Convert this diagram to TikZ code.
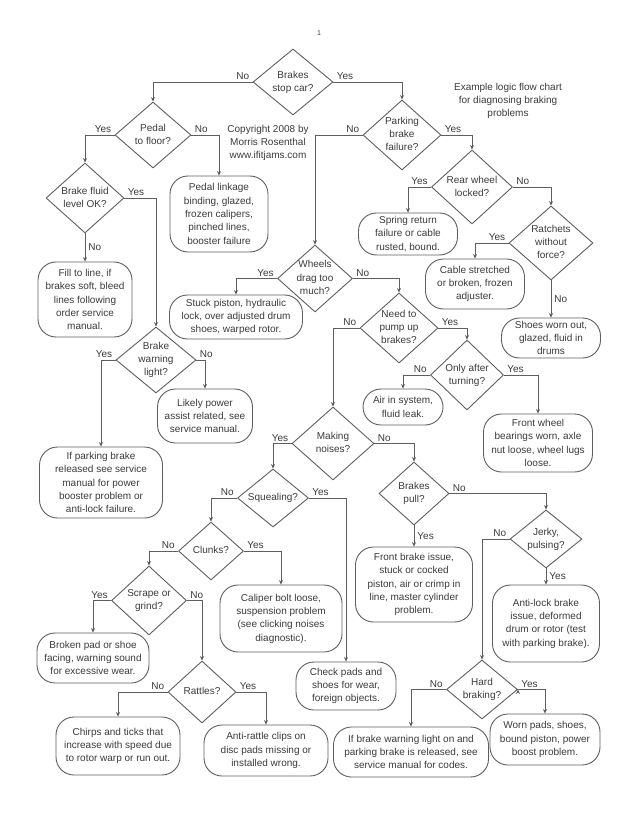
\documentclass[tikz,border=0pt]{standalone}
\usepackage{fontspec}
\setmainfont{Liberation Sans}
\usetikzlibrary{shapes.geometric,arrows.meta}
\definecolor{linegray}{HTML}{5E5E5E}
\definecolor{inkgray}{HTML}{3A3A3A}
\newcommand{\chartfont}{\fontsize{10}{13.3}\selectfont}
% question text is kept out of the diamond size
\newcommand{\ask}[1]{\makebox[0pt]{\begin{tabular}{@{}c@{}}#1\end{tabular}}}

\tikzset{
  query/.style 2 args={diamond, draw=linegray, line width=0.9pt, inner sep=0pt,
    text=inkgray, minimum width=#1pt, minimum height=#2pt},
  answer/.style 2 args={rectangle, rounded corners=18pt, draw=linegray, line width=0.9pt,
    align=center, inner sep=1pt, text=inkgray, minimum width=#1pt, minimum height=#2pt},
  hv/.style={to path={-| (\tikztotarget) \tikztonodes}},
  yesno/.style={text=inkgray, inner xsep=3pt, inner ysep=1.5pt},
  tagleft/.style={yesno, pos=0, anchor=south east},
  tagright/.style={yesno, pos=0, anchor=south west},
  tagdown/.style={yesno, pos=0.5, anchor=west},
  flow/.style={draw=linegray, line width=0.9pt, -{Stealth[length=4.5pt,width=4pt]}},
}

\begin{document}
\begin{tikzpicture}[x=1pt,y=-1pt,font=\chartfont]
\useasboundingbox (0,0) rectangle (638,826);

\node[text=inkgray, font=\fontsize{7}{8}\selectfont] (page) at (319,33) {1};
\node[text=inkgray, align=center] (credit) at (268,143) {Copyright 2008 by\\Morris Rosenthal\\www.ifitjams.com};
\node[text=inkgray, align=center] (title) at (508,101) {Example logic flow chart\\for diagnosing braking\\problems};

% questions
\node[query={80}{66}] (brakes) at (293,82) {\ask{Brakes\\stop car?}};
\node[query={76}{66}] (pedal) at (153,135) {\ask{Pedal\\to floor?}};
\node[query={78}{70}] (fluid) at (85,198) {\ask{Brake fluid\\level OK?}};
\node[query={80}{66}] (warn) at (156,360) {\ask{Brake\\warning\\light?}};
\node[query={78}{70}] (park) at (402,135) {\ask{Parking\\brake\\failure?}};
\node[query={81}{74}] (rear) at (472,187) {\ask{Rear wheel\\locked?}};
\node[query={84}{74}] (ratchet) at (551,243) {\ask{Ratchets\\without\\force?}};
\node[query={75}{67}] (drag) at (315,278.5) {\ask{Wheels\\drag too\\much?}};
\node[query={78}{70}] (pump) at (399,328) {\ask{Need to\\pump up\\brakes?}};
\node[query={73}{70}] (turn) at (467,375) {\ask{Only after\\turning?}};
\node[query={82}{73}] (noise) at (333,443.5) {\ask{Making\\noises?}};
\node[query={71}{58}] (squeal) at (273,498) {\ask{Squealing?}};
\node[query={65}{58}] (clunk) at (211,551) {\ask{Clunks?}};
\node[query={75}{69}] (scrape) at (149,600.5) {\ask{Scrape or\\grind?}};
\node[query={68}{62}] (rattle) at (202,692) {\ask{Rattles?}};
\node[query={70}{63}] (pull) at (414,493.5) {\ask{Brakes\\pull?}};
\node[query={72}{58}] (jerky) at (546,539) {\ask{Jerky,\\pulsing?}};
\node[query={71}{59}] (hard) at (482,689.5) {\ask{Hard\\braking?}};

% outcomes
\node[answer={98}{76}] (linkage) at (219,214) {Pedal linkage\\binding, glazed,\\frozen calipers,\\pinched lines,\\booster failure};
\node[answer={94}{75}] (fill) at (85,299.5) {Fill to line, if\\brakes soft, bleed\\lines following\\order service\\manual.};
\node[answer={95}{54}] (assist) at (205,416) {Likely power\\assist related, see\\service manual.};
\node[answer={123}{71}] (ifpark) at (101,482.5) {If parking brake\\released see service\\manual for power\\booster problem or\\anti-lock failure.};
\node[answer={99}{42}] (spring) at (408,234) {Spring return\\failure or cable\\rusted, bound.};
\node[answer={99}{50}] (cable) at (475,284) {Cable stretched\\or broken, frozen\\adjuster.};
\node[answer={99}{40}] (shoes) at (551,338) {Shoes worn out,\\glazed, fluid in\\drums};
\node[answer={133}{44}] (stuck) at (236,317) {Stuck piston, hydraulic\\lock, over adjusted drum\\shoes, warped rotor.};
\node[answer={80}{36}] (air) at (403,407) {Air in system,\\fluid leak.};
\node[answer={109}{58}] (bearing) at (538,443) {Front wheel\\bearings worn, axle\\nut loose, wheel lugs\\loose.};
\node[answer={122}{67}] (caliper) at (281,618.5) {Caliper bolt loose,\\suspension problem\\(see clicking noises\\diagnostic).};
\node[answer={112}{50}] (broken) at (93,658) {Broken pad or shoe\\facing, warning sound\\for excessive wear.};
\node[answer={124}{58}] (chirp) at (118,746) {Chirps and ticks that\\increase with speed due\\to rotor warp or run out.};
\node[answer={124}{51}] (clips) at (266,750.5) {Anti-rattle clips on\\disc pads missing or\\installed wrong.};
\node[answer={100}{48}] (check) at (346,686) {Check pads and\\shoes for wear,\\foreign objects.};
\node[answer={117}{75}] (front) at (414,584.5) {Front brake issue,\\stuck or cocked\\piston, air or crimp in\\line, master cylinder\\problem.};
\node[answer={107}{77}] (abs) at (546,623.5) {Anti-lock brake\\issue, deformed\\drum or rotor (test\\with parking brake).};
\node[answer={155}{50}] (codes) at (411,752) {If brake warning light on and\\parking brake is released, see\\service manual for codes.};
\node[answer={110}{51}] (worn) at (545,739.5) {Worn pads, shoes,\\bound piston, power\\boost problem.};

\path[flow]
  (brakes.west) edge[hv] node[tagleft] {No} (pedal.north)
  (brakes.east) edge[hv] node[tagright] {Yes} (park.north)
  (pedal.west) edge[hv] node[tagleft] {Yes} (fluid.north)
  (pedal.east) edge[hv] node[tagright] {No} (linkage.north)
  (fluid.east) edge[hv] node[tagright] {Yes} (warn.north)
  (fluid.south) edge node[tagdown] {No} (fill.north)
  (warn.west) edge[hv] node[tagleft] {Yes} (ifpark.north)
  (warn.east) edge[hv] node[tagright] {No} (assist.north)
  (park.west) edge[hv] node[tagleft] {No} (drag.north)
  (park.east) edge[hv] node[tagright] {Yes} (rear.north)
  (rear.west) edge[hv] node[tagleft] {Yes} (spring.north)
  (rear.east) edge[hv] node[tagright] {No} (ratchet.north)
  (ratchet.west) edge[hv] node[tagleft] {Yes} (cable.north)
  (ratchet.south) edge node[tagdown] {No} (shoes.north)
  (drag.west) edge[hv] node[tagleft] {Yes} (stuck.north)
  (drag.east) edge[hv] node[tagright] {No} (pump.north)
  (pump.west) edge[hv] node[tagleft] {No} (noise.north)
  (pump.east) edge[hv] node[tagright] {Yes} (turn.north)
  (turn.west) edge[hv] node[tagleft] {No} (air.north)
  (turn.east) edge[hv] node[tagright] {Yes} (bearing.north)
  (noise.west) edge[hv] node[tagleft] {Yes} (squeal.north)
  (noise.east) edge[hv] node[tagright] {No} (pull.north)
  (squeal.west) edge[hv] node[tagleft] {No} (clunk.north)
  (squeal.east) edge[hv] node[tagright] {Yes} (check.north)
  (clunk.west) edge[hv] node[tagleft] {No} (scrape.north)
  (clunk.east) edge[hv] node[tagright] {Yes} (caliper.north)
  (scrape.west) edge[hv] node[tagleft] {Yes} (broken.north)
  (scrape.east) edge[hv] node[tagright] {No} (rattle.north)
  (rattle.west) edge[hv] node[tagleft] {No} (chirp.north)
  (rattle.east) edge[hv] node[tagright] {Yes} (clips.north)
  (pull.south) edge node[tagdown] {Yes} (front.north)
  (pull.east) edge[hv] node[tagright] {No} (jerky.north)
  (jerky.west) edge[hv] node[tagleft] {No} (hard.north)
  (jerky.south) edge node[tagdown] {Yes} (abs.north)
  (hard.west) edge[hv] node[tagleft] {No} (codes.north)
  (hard.east) edge[hv] node[tagright] {Yes} (worn.north)
  ;
\end{tikzpicture}
\end{document}
